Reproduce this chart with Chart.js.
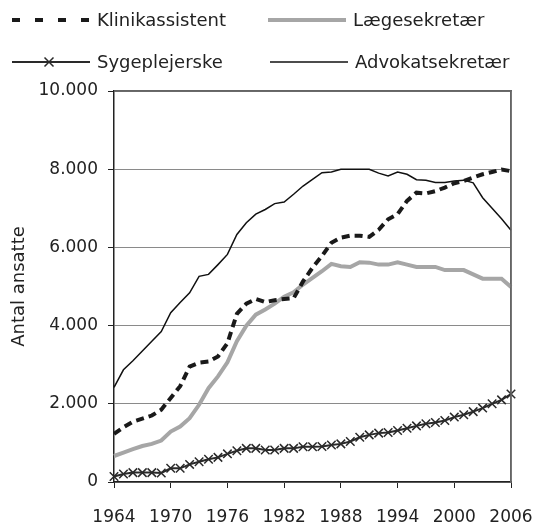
<!DOCTYPE html>
<html>
<head>
<meta charset="utf-8">
<title>Antal ansatte</title>
<script src="https://cdn.jsdelivr.net/npm/chart.js"></script>
<style>
  html, body { margin: 0; padding: 0; background: #fff; }
</style>
</head>
<body>
<canvas id="chart" width="536" height="528"></canvas>
<script>
// data, one value per year
const years = [1964, 1965, 1966, 1967, 1968, 1969, 1970, 1971, 1972, 1973,
  1974, 1975, 1976, 1977, 1978, 1979, 1980, 1981, 1982, 1983,
  1984, 1985, 1986, 1987, 1988, 1989, 1990, 1991, 1992, 1993,
  1994, 1995, 1996, 1997, 1998, 1999, 2000, 2001, 2002, 2003,
  2004, 2005, 2006];

const klinikassistent = [1230, 1400, 1540, 1620, 1700, 1850, 2150, 2450, 2950, 3050,
  3080, 3210, 3550, 4300, 4560, 4680, 4600, 4650, 4680, 4700,
  5130, 5480, 5780, 6120, 6250, 6300, 6300, 6270, 6450, 6720,
  6850, 7190, 7400, 7380, 7440, 7530, 7640, 7700, 7790, 7870,
  7930, 7990, 7950];

const laegesekretaer = [665, 750, 840, 920, 975, 1060, 1290, 1420, 1630, 1975,
  2400, 2700, 3060, 3600, 4000, 4280, 4410, 4560, 4740, 4850,
  5050, 5220, 5390, 5580, 5520, 5500, 5620, 5610, 5560, 5560,
  5620, 5560, 5500, 5500, 5500, 5420, 5420, 5420, 5310, 5200,
  5200, 5200, 4990];

const sygeplejerske = [140, 205, 240, 240, 240, 230, 350, 350, 450, 520,
  580, 630, 720, 800, 860, 860, 820, 820, 860, 860,
  900, 900, 910, 945, 975, 1035, 1145, 1205, 1250, 1265,
  1315, 1375, 1435, 1490, 1520, 1575, 1660, 1720, 1800, 1890,
  2000, 2100, 2250];

const advokatsekretaer = [2420, 2870, 3100, 3350, 3600, 3850, 4330, 4590, 4840, 5260,
  5310, 5560, 5820, 6330, 6630, 6850, 6970, 7120, 7160, 7360,
  7570, 7740, 7910, 7930, 8000, 8000, 8000, 8000, 7900, 7830,
  7930, 7870, 7730, 7720, 7660, 7660, 7700, 7720, 7650, 7270,
  7000, 6730, 6440];

const seriesNames = ['Klinikassistent', 'Lægesekretær', 'Sygeplejerske', 'Advokatsekretær'];
const yTicks = [0, 2000, 4000, 6000, 8000, 10000];
const labelEvery = 6;

const FONT = "'DejaVu Sans', sans-serif";
const INK = '#222';
const FRAME = '#666';

const fmt = v => String(v).replace(/\B(?=(\d{3})+(?!\d))/g, '.');
const isLabelled = i => (years[i] - years[0]) % labelEvery === 0;

// box edge at the top and right, then the legend in two rows above the plot
const decorPlugin = {
  id: 'decor',
  afterDraw(chart) {
    const { ctx, chartArea: a } = chart;
    ctx.save();
    ctx.setLineDash([]);
    ctx.strokeStyle = FRAME;
    ctx.lineWidth = 1.5;
    ctx.beginPath();
    ctx.moveTo(a.left, a.top);
    ctx.lineTo(a.right, a.top);
    ctx.lineTo(a.right, a.bottom);
    ctx.stroke();

    const ds = chart.data.datasets;
    const slots = [
      { x: 12, y: 20 }, { x: 268, y: 20 },
      { x: 12, y: 62 }, { x: 270, y: 62 }
    ];
    const lineLen = 78;
    ds.forEach((d, i) => {
      const s = slots[i];
      ctx.beginPath();
      ctx.strokeStyle = d.borderColor;
      ctx.lineWidth = d.borderWidth;
      ctx.setLineDash(i === 0 ? [8, 15] : []);
      ctx.moveTo(s.x, s.y);
      ctx.lineTo(s.x + lineLen, s.y);
      ctx.stroke();
      ctx.setLineDash([]);
      if (d.pointStyle === 'crossRot') {
        const cx = s.x + 37, r = 4.5;
        ctx.beginPath();
        ctx.lineWidth = 1.5;
        ctx.moveTo(cx - r, s.y - r);
        ctx.lineTo(cx + r, s.y + r);
        ctx.moveTo(cx + r, s.y - r);
        ctx.lineTo(cx - r, s.y + r);
        ctx.stroke();
      }
      ctx.fillStyle = INK;
      ctx.font = '18px ' + FONT;
      ctx.textBaseline = 'middle';
      ctx.fillText(d.label, s.x + lineLen + 7, s.y + 1);
    });
    ctx.restore();
  }
};

// empty axes on the top and right only to get the box border from the library
const edgeAxis = (position, isX) => ({
  type: isX ? 'category' : 'linear',
  position,
  display: true,
  offset: false,
  afterFit: s => { if (isX) s.height = 0; else s.width = 0; },
  grid: { display: false, drawOnChartArea: false, drawTicks: false },
  border: { display: true, color: FRAME, width: 1.5 },
  ticks: { display: false }
});

new Chart(document.getElementById('chart'), {
  type: 'line',
  data: {
    labels: years,
    datasets: [
      {
        label: seriesNames[0],
        data: klinikassistent,
        borderColor: '#1a1a1a',
        borderWidth: 4,
        borderDash: [8, 5],
        pointRadius: 0,
        tension: 0
      },
      {
        label: seriesNames[1],
        data: laegesekretaer,
        borderColor: '#a6a6a6',
        borderWidth: 4,
        pointRadius: 0,
        tension: 0
      },
      {
        label: seriesNames[2],
        data: sygeplejerske,
        borderColor: '#2a2a2a',
        borderWidth: 2,
        pointStyle: 'crossRot',
        pointRadius: 6,
        pointBorderWidth: 1.5,
        pointBorderColor: '#2a2a2a',
        tension: 0
      },
      {
        label: seriesNames[3],
        data: advokatsekretaer,
        borderColor: '#111',
        borderWidth: 1.5,
        pointRadius: 0,
        tension: 0
      }
    ]
  },
  options: {
    responsive: false,
    animation: false,
    devicePixelRatio: 1,
    layout: { padding: { top: 91, right: 25, bottom: 0, left: 0 } },
    plugins: {
      legend: { display: false },
      tooltip: { enabled: false }
    },
    scales: {
      x: {
        type: 'category',
        offset: false,
        afterFit: s => {
          s.height = 46;
          // the end labels may hang over the box, do not shrink it for them
          s.paddingLeft = 0;
          s.paddingRight = 0;
        },
        grid: {
          drawOnChartArea: false,
          tickColor: c => isLabelled(c.index) ? INK : 'transparent',
          tickLength: 6
        },
        border: { color: INK, width: 1.5 },
        ticks: {
          autoSkip: false,
          maxRotation: 0,
          padding: 19,
          color: INK,
          font: { family: FONT, size: 17 },
          callback: (v, i) => isLabelled(i) ? String(years[i]) : ''
        }
      },
      xTop: edgeAxis('top', true),
      y: {
        min: yTicks[0],
        max: yTicks[yTicks.length - 1],
        afterFit: s => { s.width = 114; },
        afterBuildTicks: s => { s.ticks = yTicks.map(v => ({ value: v })); },
        grid: { color: '#8a8a8a', tickColor: INK, tickLength: 6, lineWidth: 1 },
        border: { color: INK, width: 1.5 },
        ticks: {
          padding: 10,
          color: INK,
          font: { family: FONT, size: 17 },
          callback: v => fmt(v)
        },
        title: {
          display: true,
          text: 'Antal ansatte',
          color: INK,
          font: { family: FONT, size: 18 },
          padding: { top: 9, bottom: 0 }
        }
      },
      yRight: edgeAxis('right', false)
    }
  },
  plugins: [decorPlugin]
});
</script>
</body>
</html>
